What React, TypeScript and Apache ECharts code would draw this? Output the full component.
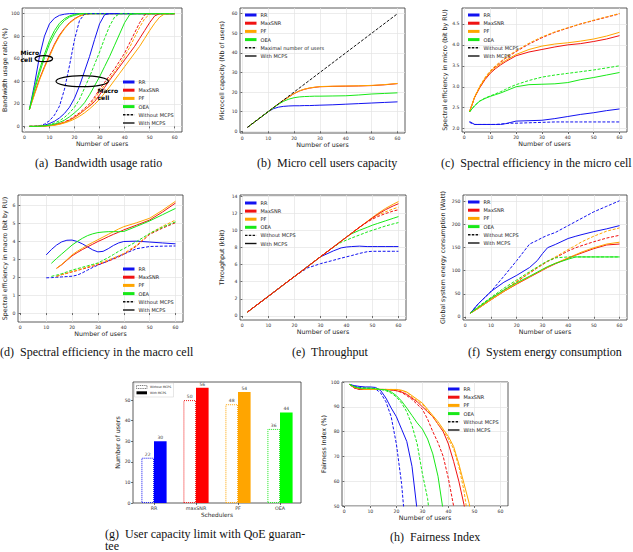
import { useEffect, useRef } from "react";
import * as echarts from "echarts";

// ---------- (a) Bandwidth usage ratio (%) ----------
const usersBw = [2, 4, 6, 8, 10, 12, 14, 16, 18, 20, 22, 24, 26, 28, 30, 32, 34, 36, 38, 40, 42, 44, 46, 48, 50, 52, 54, 56, 58, 60];
const bwMicroRR = [15, 37, 62, 80, 91, 96, 98.5, 99.5, 100, 100, 100, 100, 100, 100, 100, 100, 100, 100, 100, 100, 100, 100, 100, 100, 100, 100, 100, 100, 100, 100];
const bwMicroOEA0 = [15, 34, 50, 64, 76, 85, 91.5, 95.5, 98, 99.3, 100, 100, 100, 100, 100, 100, 100, 100, 100, 100, 100, 100, 100, 100, 100, 100, 100, 100, 100, 100];
const bwMicroOEA = [15, 32, 47, 61, 73, 82, 89, 94, 97, 98.5, 99.5, 100, 100, 100, 100, 100, 100, 100, 100, 100, 100, 100, 100, 100, 100, 100, 100, 100, 100, 100];
const bwMicroMaxSNR = [15, 29, 42, 53, 63, 73, 81, 87, 92, 95.5, 98, 99.3, 100, 100, 100, 100, 100, 100, 100, 100, 100, 100, 100, 100, 100, 100, 100, 100, 100, 100];
const bwMicroPF = [15, 28, 41, 52, 62, 72, 80, 86.5, 91.5, 95, 97.7, 99.2, 99.8, 100, 100, 100, 100, 100, 100, 100, 100, 100, 100, 100, 100, 100, 100, 100, 100, 100];
const bwMacroRR0 = [0, 0, 0.5, 2, 5, 10, 18, 33, 54, 77, 94, 99.5, 100, 100, 100, 100, 100, 100, 100, 100, 100, 100, 100, 100, 100, 100, 100, 100, 100, 100];
const bwMacroRR = [0, 0, 0.3, 1, 2.5, 4.5, 7.5, 11.5, 17, 25, 36, 49, 62, 77, 91, 99, 100, 100, 100, 100, 100, 100, 100, 100, 100, 100, 100, 100, 100, 100];
const bwMacroOEA0 = [0, 0, 0.2, 0.6, 1.5, 3, 5, 8, 12, 17, 24, 34, 44, 55, 66, 78, 89, 97, 100, 100, 100, 100, 100, 100, 100, 100, 100, 100, 100, 100];
const bwMacroOEA = [0, 0, 0.1, 0.4, 1, 2, 3.5, 5.5, 8.5, 12, 16, 21, 28, 36, 44, 53, 62, 72, 82, 92, 99, 100, 100, 100, 100, 100, 100, 100, 100, 100];
const bwMacroMaxSNR0 = [0, 0, 0.1, 0.4, 0.8, 1.5, 2.5, 4, 6, 9, 12, 16, 20, 26, 33, 39, 45, 51, 58, 65, 74, 83, 92, 99, 100, 100, 100, 100, 100, 100];
const bwMacroPF0 = [0, 0, 0.1, 0.3, 0.7, 1.3, 2.2, 3.5, 5.2, 8, 11, 14.5, 18.5, 24, 31, 36.5, 42.5, 48.5, 55, 62, 70, 79, 88, 95.5, 99.5, 100, 100, 100, 100, 100];
const bwMacroMaxSNR = [0, 0, 0.1, 0.3, 0.7, 1.3, 2.2, 3.5, 5.5, 8, 11, 14.5, 18, 22, 28, 34.5, 41, 47, 53, 59, 65, 71, 78, 85, 92, 98, 100, 100, 100, 100];
const bwMacroPF = [0, 0, 0.1, 0.2, 0.5, 1, 1.8, 3, 4.5, 6.5, 9, 12, 15.5, 19.5, 24, 29.5, 35, 41, 47, 53, 59, 65, 71, 78, 85, 91.5, 97, 99.8, 100, 100];

// ---------- (b) Micro cell users capacity ----------
const usersCap = [2, 4, 6, 8, 10, 12, 14, 16, 18, 20, 22, 24, 26, 28, 30, 35, 40, 45, 50, 55, 60];
const capMaxX = [2, 60];
const capMaxY = [2, 60];
const capRR = [2, 4, 6, 8, 10, 11.5, 12.3, 12.7, 12.9, 13, 13, 13.1, 13.1, 13.2, 13.3, 13.5, 13.8, 14.1, 14.4, 14.7, 15];
const capOEA = [2, 4, 6, 8, 10, 12, 13.8, 15.3, 16.4, 17.1, 17.5, 17.7, 17.8, 17.9, 17.9, 18, 18.1, 18.5, 19, 19.3, 19.6];
const capMaxSNR = [2, 4, 6, 8, 10, 12, 14, 15.8, 17.5, 19.2, 20.5, 21.4, 22, 22.4, 22.7, 22.9, 23, 23.1, 23.3, 23.7, 24.3];
const capPF = [2, 4, 6, 8, 10, 12, 14, 15.9, 17.6, 19.3, 20.6, 21.5, 22.1, 22.5, 22.8, 23, 23.1, 23.2, 23.4, 23.8, 24.4];

// ---------- (c) Spectral efficiency in the micro cell ----------
const usersSeMicro = [2, 4, 6, 8, 10, 12, 14, 16, 18, 20, 25, 30, 35, 40, 45, 50, 55, 60];
const seMiMaxSNR0 = [2.4, 2.75, 3.0, 3.2, 3.36, 3.48, 3.58, 3.68, 3.76, 3.84, 4.02, 4.17, 4.3, 4.4, 4.5, 4.58, 4.66, 4.74];
const seMiPF0 = [2.4, 2.76, 3.02, 3.22, 3.38, 3.5, 3.6, 3.7, 3.78, 3.86, 4.04, 4.19, 4.31, 4.41, 4.5, 4.59, 4.67, 4.75];
const seMiMaxSNR = [2.4, 2.75, 2.98, 3.17, 3.32, 3.43, 3.52, 3.6, 3.67, 3.74, 3.83, 3.89, 3.95, 4.0, 4.03, 4.08, 4.14, 4.22];
const seMiPF = [2.4, 2.76, 3.0, 3.2, 3.35, 3.46, 3.55, 3.63, 3.7, 3.77, 3.89, 3.97, 4.02, 4.05, 4.09, 4.14, 4.21, 4.3];
const seMiOEA = [2.4, 2.55, 2.66, 2.72, 2.77, 2.81, 2.85, 2.9, 2.95, 3.0, 3.05, 3.06, 3.07, 3.1, 3.17, 3.22, 3.28, 3.34];
const seMiOEA0 = [2.4, 2.55, 2.66, 2.73, 2.78, 2.83, 2.88, 2.94, 3.0, 3.05, 3.15, 3.23, 3.28, 3.32, 3.36, 3.4, 3.45, 3.5];
const seMiRR = [2.17, 2.1, 2.1, 2.1, 2.1, 2.1, 2.1, 2.12, 2.15, 2.18, 2.19, 2.2, 2.24, 2.29, 2.34, 2.38, 2.43, 2.47];
const seMiRR0 = [2.15, 2.1, 2.1, 2.1, 2.1, 2.1, 2.11, 2.12, 2.13, 2.13, 2.14, 2.15, 2.16, 2.16, 2.16, 2.16, 2.16, 2.16];

// ---------- (d) Spectral efficiency in the macro cell ----------
const usersSeMacro = [10, 12, 14, 16, 18, 20, 22, 24, 26, 28, 30, 32, 34, 36, 38, 40, 45, 50, 55, 60];
const seMaRR = [3.25, 3.55, 3.8, 3.98, 4.07, 4.08, 4.0, 3.87, 3.7, 3.53, 3.42, 3.45, 3.6, 3.78, 3.92, 4.0, 4.02, 3.97, 3.92, 3.87];
const seMaRR0 = [1.97, 1.98, 2.0, 2.02, 2.04, 2.06, 2.12, 2.25, 2.4, 2.55, 2.68, 2.8, 2.92, 3.05, 3.18, 3.3, 3.6, 3.72, 3.74, 3.75];
const seMaOEA = [null, 2.78, 3.05, 3.3, 3.55, 3.8, 4.0, 4.18, 4.33, 4.43, 4.5, 4.53, 4.55, 4.55, 4.55, 4.56, 4.85, 5.15, 5.5, 5.85];
const seMaOEA0 = [null, 2.05, 2.12, 2.2, 2.3, 2.4, 2.48, 2.56, 2.64, 2.72, 2.8, 2.95, 3.1, 3.27, 3.45, 3.6, 4.0, 4.45, 4.8, 5.1];
const seMaMaxSNR = [null, null, 2.5, 2.7, 2.95, 3.2, 3.38, 3.55, 3.7, 3.85, 4.0, 4.13, 4.27, 4.4, 4.52, 4.65, 4.92, 5.2, 5.65, 6.15];
const seMaPF = [null, null, 2.5, 2.72, 2.98, 3.25, 3.45, 3.62, 3.8, 3.95, 4.1, 4.25, 4.4, 4.55, 4.7, 4.83, 5.05, 5.3, 5.75, 6.25];
const seMaMaxSNR0 = [null, null, 2.05, 2.15, 2.22, 2.3, 2.38, 2.46, 2.54, 2.62, 2.7, 2.8, 2.9, 3.02, 3.14, 3.28, 3.75, 4.4, 4.75, 5.05];
const seMaPF0 = [null, null, 2.05, 2.15, 2.23, 2.32, 2.4, 2.49, 2.58, 2.67, 2.76, 2.86, 2.97, 3.08, 3.2, 3.33, 3.8, 4.45, 4.85, 5.2];

// ---------- (e) Throughput (kbit) ----------
const usersTp = [2, 5, 10, 15, 20, 25, 30, 35, 38, 40, 42, 45, 48, 50, 52, 55, 58, 60];
const tpMaxSNR = [0.46, 1.15, 2.3, 3.45, 4.6, 5.75, 6.9, 8.05, 8.74, 9.2, 9.66, 10.35, 11.0, 11.45, 11.85, 12.4, 12.85, 13.1];
const tpPF = [0.46, 1.15, 2.3, 3.45, 4.6, 5.75, 6.9, 8.05, 8.74, 9.2, 9.66, 10.35, 11.04, 11.5, 11.95, 12.55, 13.05, 13.35];
const tpMaxSNR0 = [0.46, 1.15, 2.3, 3.45, 4.6, 5.75, 6.9, 8.05, 8.74, 9.2, 9.66, 10.35, 10.95, 11.3, 11.6, 11.95, 12.25, 12.4];
const tpPF0 = [0.46, 1.15, 2.3, 3.45, 4.6, 5.75, 6.9, 8.05, 8.74, 9.2, 9.66, 10.35, 11.0, 11.4, 11.75, 12.15, 12.5, 12.7];
const tpOEA = [0.46, 1.15, 2.3, 3.45, 4.6, 5.75, 6.9, 8.05, 8.74, 9.2, 9.6, 10.0, 10.35, 10.6, 10.8, 11.1, 11.4, 11.6];
const tpOEA0 = [0.46, 1.15, 2.3, 3.45, 4.6, 5.75, 6.9, 8.05, 8.6, 8.85, 9.1, 9.45, 9.8, 10.0, 10.2, 10.5, 10.75, 10.9];
const tpRR = [0.46, 1.15, 2.3, 3.45, 4.6, 5.75, 6.9, 7.6, 7.95, 8.05, 8.1, 8.15, 8.1, 8.1, 8.1, 8.1, 8.1, 8.1];
const tpRR0 = [0.46, 1.15, 2.3, 3.45, 4.6, 5.6, 6.1, 6.5, 6.75, 6.9, 7.05, 7.3, 7.5, 7.55, 7.55, 7.55, 7.55, 7.55];

// ---------- (f) System energy consumption (Watt) ----------
const usersEn = [2, 5, 10, 15, 20, 25, 28, 30, 32, 35, 40, 43, 45, 50, 55, 60];
const enRR0 = [8, 28, 55, 88, 122, 158, 166, 172, 177, 183, 198, 207, 213, 228, 240, 252];
const enRR = [8, 28, 55, 75, 90, 107, 122, 137, 150, 157, 170, 175, 178, 185, 191, 198];
const enOEA0 = [8, 22, 42, 62, 80, 98, 108, 115, 121, 128, 130, 130, 130, 130, 130, 130];
const enOEA = [8, 20, 40, 58, 74, 88, 97, 103, 109, 116, 125, 130, 130, 130, 130, 130];
const enMaxSNR0 = [8, 20, 40, 58, 76, 95, 106, 113, 120, 128, 143, 150, 154, 163, 171, 177];
const enPF0 = [8, 20, 40, 58, 77, 96, 107, 114, 121, 130, 146, 155, 162, 175, 186, 193];
const enMaxSNR = [8, 18, 37, 55, 71, 86, 95, 101, 107, 115, 127, 134, 138, 148, 156, 158];
const enPF = [8, 18, 37, 55, 72, 87, 96, 102, 108, 116, 128, 135, 140, 150, 158, 162];

// ---------- (g) User capacity limit with QoE guarantee ----------
const schedulers = ["RR", "maxSNR", "PF", "OEA"];
const capQoE0 = [22, 50, 48, 36];
const capQoE = [30, 56, 54, 44];

// ---------- (h) Fairness index (%) ----------
const usersFi = [2, 4, 6, 8, 10, 12, 14, 16, 18, 20, 22, 24, 26, 28, 30, 32, 34, 36, 38, 40, 42, 44, 46, 48, 50];
const fiRR0 = [99, 98.3, 97.8, 97.6, 97.5, 97.2, 95.5, 92, 86, 75, 59, 35];
const fiRR = [99, 98.5, 98.2, 98, 98, 97.8, 96.5, 93.5, 89.5, 86, 81, 76, 66, 48];
const fiOEA = [99, 98, 97.5, 97.5, 97.5, 97.3, 97, 96.8, 96, 94.5, 92.3, 89.5, 86.5, 83.5, 81, 77, 71, 62, 48];
const fiOEA0 = [99, 98, 97.5, 97.5, 97.5, 97.3, 97, 96.5, 95.5, 94, 91.5, 88, 82.5, 75, 63, 53, 35];
const fiMaxSNR = [99, 97.5, 97, 97, 97, 97, 97, 97, 96.8, 96.5, 96, 95, 93.5, 92, 90, 88, 86, 83, 80, 75, 68, 60, 50.5, 38];
const fiMaxSNR0 = [99, 97.5, 97, 97, 97, 97, 97, 97, 96.8, 96.5, 95.8, 94.5, 93, 91, 89, 85, 80, 75.5, 70, 61, 50, 35];
const fiPF = [99, 97.8, 97.3, 97, 97, 97, 97, 97, 97, 97, 96.7, 96, 94.5, 93, 91.5, 89, 86.5, 84, 81, 78, 74, 67, 59, 51, 38];
const fiPF0 = [99, 97.8, 97.3, 97, 97, 97, 97, 97, 97, 96.9, 96.5, 95.8, 94, 92.5, 91, 88.5, 86, 83, 80.5, 77, 73, 66, 56, 42];

// ---------- styling ----------
const SANS = "DejaVu Sans";
const SERIF = "Liberation Serif";
const BLUE = "#1212f0";
const RED = "#f01212";
const ORANGE = "#ffa500";
const GREEN = "#18e818";
const FRAME = "#333333";

const frames = [
  { left: 17, top: 8, width: 165, height: 124 },
  { left: 240, top: 8, width: 165, height: 125 },
  { left: 462, top: 8, width: 165, height: 124 },
  { left: 18, top: 195, width: 165, height: 127 },
  { left: 240, top: 195, width: 166, height: 125 },
  { left: 463, top: 195, width: 164, height: 125 },
  { left: 133, top: 382, width: 168, height: 121 },
  { left: 342, top: 382, width: 166, height: 124 },
];

const usersTicks = [0, 10, 20, 30, 40, 50, 60];

function numAxis(
  gi: number,
  min: number,
  max: number,
  step: number,
  ticks: number[],
  name: string,
  gap: number,
  vertical: boolean,
  fmt?: (v: number) => string
) {
  const isTick = (v: number) => ticks.some((t) => Math.abs(t - v) < 1e-6);
  return {
    gridIndex: gi,
    type: "value",
    min,
    max,
    interval: step,
    name,
    nameLocation: "middle",
    nameGap: gap,
    nameRotate: vertical ? 90 : 0,
    nameTextStyle: { fontFamily: SANS, fontSize: 6.3, color: "#222" },
    axisLine: { show: false },
    axisTick: {
      show: true,
      length: 2,
      customValues: ticks,
      lineStyle: { color: FRAME, width: 0.7 },
    },
    axisLabel: {
      fontFamily: SANS,
      fontSize: 4.6,
      color: "#333",
      margin: 2.5,
      customValues: ticks,
      formatter: (v: number) => (isTick(v) ? (fmt ? fmt(v) : String(v)) : ""),
    },
    splitLine: { show: true, lineStyle: { color: "#e4e4e4", width: 0.7 } },
  };
}

function curve(gi: number, xs: number[], ys: (number | null)[], color: string, dashed: boolean, name: string) {
  const data = xs
    .map((x, i) => [x, ys[i]])
    .filter((p) => p[1] !== null && p[1] !== undefined);
  return {
    type: "line",
    name,
    xAxisIndex: gi,
    yAxisIndex: gi,
    data,
    symbol: "none",
    silent: true,
    clip: true,
    lineStyle: { color, width: 1, type: dashed ? [3, 1.6] : "solid" },
  };
}

type LegendEntry = { label: string; color: string; dashed?: boolean; black?: boolean };
const schedEntries: LegendEntry[] = [
  { label: "RR", color: BLUE },
  { label: "MaxSNR", color: RED },
  { label: "PF", color: ORANGE },
  { label: "OEA", color: GREEN },
];
const mcpsEntries: LegendEntry[] = [
  { label: "Without MCPS", color: "#111", dashed: true, black: true },
  { label: "With MCPS", color: "#111", black: true },
];

function legendBlock(x: number, y0: number, dy: number, entries: LegendEntry[]) {
  const els: any[] = [];
  entries.forEach((e, i) => {
    const y = y0 + i * dy;
    els.push({
      type: "line",
      silent: true,
      z: 100,
      shape: { x1: x, y1: y, x2: x + 11.5, y2: y },
      style: {
        stroke: e.color,
        lineWidth: e.black ? 1.4 : 3,
        lineDash: e.dashed ? [2.5, 1.3] : null,
      },
    });
    els.push({
      type: "text",
      silent: true,
      z: 100,
      x: x + 15.5,
      y,
      style: {
        text: e.label,
        fontFamily: SANS,
        fontSize: 5,
        fill: "#222",
        align: "left",
        verticalAlign: "middle",
      },
    });
  });
  return els;
}

function caption(x: number, y: number, text: string) {
  return {
    type: "text",
    silent: true,
    x,
    y,
    style: {
      text,
      fontFamily: SERIF,
      fontSize: 12,
      fill: "#111",
      align: "left",
      verticalAlign: "middle",
    },
  };
}

function note(x: number, y: number, text: string) {
  return {
    type: "text",
    silent: true,
    z: 100,
    x,
    y,
    style: {
      text,
      fontFamily: SANS,
      fontWeight: "bold",
      fontSize: 6,
      fill: "#000",
      align: "left",
      verticalAlign: "middle",
    },
  };
}

function buildOption() {
  const grids = frames.map((f) => ({
    ...f,
    show: true,
    borderColor: FRAME,
    borderWidth: 0.8,
    backgroundColor: "transparent",
    containLabel: false,
  }));

  const xAxes: any[] = [
    numAxis(0, -0.9, 62.9, 10, usersTicks, "Number of users", 8.5, false),
    numAxis(1, -0.9, 62.9, 10, usersTicks, "Number of users", 8.5, false),
    numAxis(2, -0.9, 62.9, 10, usersTicks, "Number of users", 8.5, false),
    numAxis(3, -0.9, 62.9, 10, usersTicks, "Number of users", 8.5, false),
    numAxis(4, -0.9, 62.9, 10, usersTicks, "Number of users", 8.5, false),
    numAxis(5, -0.9, 62.9, 10, usersTicks, "Number of users", 8.5, false),
    {
      gridIndex: 6,
      type: "category",
      data: schedulers,
      name: "Schedulers",
      nameLocation: "middle",
      nameGap: 9,
      nameTextStyle: { fontFamily: SANS, fontSize: 5.8, color: "#222" },
      axisLine: { show: false },
      axisTick: { show: true, alignWithLabel: true, length: 2, lineStyle: { color: FRAME, width: 0.7 } },
      axisLabel: { fontFamily: SANS, fontSize: 4.8, color: "#333", margin: 2.5 },
      splitLine: { show: false },
    },
    numAxis(7, -0.9, 62.9, 10, usersTicks, "Number of users", 8.5, false),
  ];

  const yAxes: any[] = [
    numAxis(0, -5, 105, 20, [0, 20, 40, 60, 80, 100], "Bandwidth usage ratio (%)", 15, true),
    numAxis(1, -0.9, 62.9, 10, [0, 10, 20, 30, 40, 50, 60], "Microcell capacity (Nb of users)", 15.5, true),
    numAxis(2, 1.92, 4.88, 0.5, [2, 2.5, 3, 3.5, 4, 4.5], "Spectral efficiency in micro (bit by RU)", 15, true, (v) => v.toFixed(1)),
    numAxis(3, -0.5, 6.6, 1, [0, 1, 2, 3, 4, 5, 6], "Spectral efficiency in macro (bit by RU)", 10.5, true),
    numAxis(4, -0.47, 14.12, 2, [0, 2, 4, 6, 8, 10, 12, 14], "Throughput (kbit)", 15.5, true),
    numAxis(5, -7, 264.5, 50, [0, 50, 100, 150, 200, 250], "Global system energy consumption (Watt)", 17.5, true),
    { ...numAxis(6, 0, 58.8, 10, [0, 10, 20, 30, 40, 50], "Number of users", 12.5, true), splitLine: { show: false } },
    numAxis(7, 50, 100, 10, [50, 60, 70, 80, 90, 100], "Fairness Index (%)", 16, true),
  ];

  const series: any[] = [
    // (a) micro cell curves
    curve(0, usersBw, bwMicroRR, BLUE, false, "RR micro"),
    curve(0, usersBw, bwMicroMaxSNR, RED, false, "MaxSNR micro"),
    curve(0, usersBw, bwMicroPF, ORANGE, false, "PF micro"),
    curve(0, usersBw, bwMicroOEA0, GREEN, false, "OEA micro w/o"),
    curve(0, usersBw, bwMicroOEA, GREEN, false, "OEA micro"),
    // (a) macro cell curves
    curve(0, usersBw, bwMacroRR0, BLUE, true, "RR macro w/o"),
    curve(0, usersBw, bwMacroRR, BLUE, false, "RR macro"),
    curve(0, usersBw, bwMacroMaxSNR0, RED, true, "MaxSNR macro w/o"),
    curve(0, usersBw, bwMacroMaxSNR, RED, false, "MaxSNR macro"),
    curve(0, usersBw, bwMacroPF0, ORANGE, true, "PF macro w/o"),
    curve(0, usersBw, bwMacroPF, ORANGE, false, "PF macro"),
    curve(0, usersBw, bwMacroOEA0, GREEN, true, "OEA macro w/o"),
    curve(0, usersBw, bwMacroOEA, GREEN, false, "OEA macro"),

    // (b)
    curve(1, usersCap, capRR, BLUE, false, "RR"),
    curve(1, usersCap, capMaxSNR, RED, false, "MaxSNR"),
    curve(1, usersCap, capPF, ORANGE, false, "PF"),
    curve(1, usersCap, capOEA, GREEN, false, "OEA"),
    curve(1, capMaxX, capMaxY, "#111", true, "Maximal number of users"),

    // (c)
    curve(2, usersSeMicro, seMiRR0, BLUE, true, "RR w/o"),
    curve(2, usersSeMicro, seMiRR, BLUE, false, "RR"),
    curve(2, usersSeMicro, seMiMaxSNR0, RED, true, "MaxSNR w/o"),
    curve(2, usersSeMicro, seMiMaxSNR, RED, false, "MaxSNR"),
    curve(2, usersSeMicro, seMiPF0, ORANGE, true, "PF w/o"),
    curve(2, usersSeMicro, seMiPF, ORANGE, false, "PF"),
    curve(2, usersSeMicro, seMiOEA0, GREEN, true, "OEA w/o"),
    curve(2, usersSeMicro, seMiOEA, GREEN, false, "OEA"),

    // (d)
    curve(3, usersSeMacro, seMaRR0, BLUE, true, "RR w/o"),
    curve(3, usersSeMacro, seMaRR, BLUE, false, "RR"),
    curve(3, usersSeMacro, seMaMaxSNR0, RED, true, "MaxSNR w/o"),
    curve(3, usersSeMacro, seMaMaxSNR, RED, false, "MaxSNR"),
    curve(3, usersSeMacro, seMaPF0, ORANGE, true, "PF w/o"),
    curve(3, usersSeMacro, seMaPF, ORANGE, false, "PF"),
    curve(3, usersSeMacro, seMaOEA0, GREEN, true, "OEA w/o"),
    curve(3, usersSeMacro, seMaOEA, GREEN, false, "OEA"),

    // (e)
    curve(4, usersTp, tpRR0, BLUE, true, "RR w/o"),
    curve(4, usersTp, tpRR, BLUE, false, "RR"),
    curve(4, usersTp, tpOEA0, GREEN, true, "OEA w/o"),
    curve(4, usersTp, tpOEA, GREEN, false, "OEA"),
    curve(4, usersTp, tpPF0, ORANGE, true, "PF w/o"),
    curve(4, usersTp, tpPF, ORANGE, false, "PF"),
    curve(4, usersTp, tpMaxSNR0, RED, true, "MaxSNR w/o"),
    curve(4, usersTp, tpMaxSNR, RED, false, "MaxSNR"),

    // (f)
    curve(5, usersEn, enRR0, BLUE, true, "RR w/o"),
    curve(5, usersEn, enRR, BLUE, false, "RR"),
    curve(5, usersEn, enMaxSNR0, RED, true, "MaxSNR w/o"),
    curve(5, usersEn, enMaxSNR, RED, false, "MaxSNR"),
    curve(5, usersEn, enPF0, ORANGE, true, "PF w/o"),
    curve(5, usersEn, enPF, ORANGE, false, "PF"),
    curve(5, usersEn, enOEA0, GREEN, true, "OEA w/o"),
    curve(5, usersEn, enOEA, GREEN, false, "OEA"),

    // (g)
    {
      type: "bar",
      name: "Without MCPS",
      xAxisIndex: 6,
      yAxisIndex: 6,
      barWidth: "30%",
      barGap: "0%",
      silent: true,
      data: capQoE0.map((v, i) => ({
        value: v,
        itemStyle: {
          color: "#ffffff",
          borderColor: [BLUE, RED, ORANGE, GREEN][i],
          borderType: "dotted",
          borderWidth: 1,
        },
      })),
      label: { show: true, position: "top", distance: 1, fontFamily: SANS, fontSize: 4.5, color: "#444" },
    },
    {
      type: "bar",
      name: "With MCPS",
      xAxisIndex: 6,
      yAxisIndex: 6,
      barWidth: "30%",
      barGap: "0%",
      silent: true,
      data: capQoE.map((v, i) => ({
        value: v,
        itemStyle: { color: ["#0000ff", "#ff0000", "#ffa500", "#00ff00"][i] },
      })),
      label: { show: true, position: "top", distance: 1, fontFamily: SANS, fontSize: 4.5, color: "#444" },
    },

    // (h)
    curve(7, usersFi, fiRR0, BLUE, true, "RR w/o"),
    curve(7, usersFi, fiRR, BLUE, false, "RR"),
    curve(7, usersFi, fiMaxSNR0, RED, true, "MaxSNR w/o"),
    curve(7, usersFi, fiMaxSNR, RED, false, "MaxSNR"),
    curve(7, usersFi, fiPF0, ORANGE, true, "PF w/o"),
    curve(7, usersFi, fiPF, ORANGE, false, "PF"),
    curve(7, usersFi, fiOEA0, GREEN, true, "OEA w/o"),
    curve(7, usersFi, fiOEA, GREEN, false, "OEA"),
  ];

  const graphic: any[] = [
    // legends
    ...legendBlock(123, 82, 8.2, [...schedEntries, ...mcpsEntries]),
    ...legendBlock(245, 15, 8.2, [
      ...schedEntries,
      { label: "Maximal number of users", color: "#111", dashed: true, black: true },
      { label: "With MCPS", color: "#111", black: true },
    ]),
    ...legendBlock(468, 15, 8.2, [...schedEntries, ...mcpsEntries]),
    ...legendBlock(123, 269, 8.2, [...schedEntries, ...mcpsEntries]),
    ...legendBlock(245, 203, 8.1, [...schedEntries, ...mcpsEntries]),
    ...legendBlock(468, 202, 8.2, [...schedEntries, ...mcpsEntries]),
    ...legendBlock(448, 389, 8.2, [...schedEntries, ...mcpsEntries]),

    // bar chart legend
    {
      type: "rect",
      silent: true,
      z: 100,
      shape: { x: 134.5, y: 383, width: 39, height: 14 },
      style: { fill: "rgba(255,255,255,0.85)", stroke: "#cccccc", lineWidth: 0.5 },
    },
    {
      type: "rect",
      silent: true,
      z: 101,
      shape: { x: 136.5, y: 385.5, width: 10.5, height: 3 },
      style: { fill: "#ffffff", stroke: "#111", lineWidth: 0.6, lineDash: [1, 0.8] },
    },
    {
      type: "rect",
      silent: true,
      z: 101,
      shape: { x: 136.5, y: 391.3, width: 10.5, height: 3 },
      style: { fill: "#000000" },
    },
    {
      type: "text",
      silent: true,
      z: 101,
      x: 150,
      y: 387,
      style: { text: "Without MCPS", fontFamily: SANS, fontSize: 3, fill: "#222", verticalAlign: "middle" },
    },
    {
      type: "text",
      silent: true,
      z: 101,
      x: 150,
      y: 392.8,
      style: { text: "With MCPS", fontFamily: SANS, fontSize: 3, fill: "#222", verticalAlign: "middle" },
    },

    // cell annotations in (a)
    {
      type: "ellipse",
      silent: true,
      z: 100,
      shape: { cx: 43.8, cy: 58.7, rx: 8.8, ry: 3 },
      style: { fill: "none", stroke: "#000", lineWidth: 1.2 },
    },
    {
      type: "ellipse",
      silent: true,
      z: 100,
      shape: { cx: 82.2, cy: 81.2, rx: 26.2, ry: 5.5 },
      style: { fill: "none", stroke: "#000", lineWidth: 1.2 },
    },
    note(20.5, 52.3, "Micro"),
    note(20.5, 59.3, "cell"),
    note(97.5, 90.3, "Macro"),
    note(97.5, 97.2, "cell"),

    // sub-figure captions
    caption(35, 163, "(a)\u00a0 Bandwidth usage ratio"),
    caption(257, 163, "(b)\u00a0 Micro cell users capacity"),
    caption(441, 163, "(c)\u00a0 Spectral efficiency in the micro cell"),
    caption(0, 352, "(d)\u00a0 Spectral efficiency in the macro cell"),
    caption(292, 352, "(e)\u00a0 Throughput"),
    caption(468, 352, "(f)\u00a0 System energy consumption"),
    caption(105, 533.5, "(g)\u00a0 User capacity limit with QoE guaran-"),
    caption(105, 546, "tee"),
    caption(390, 537, "(h)\u00a0 Fairness Index"),
  ];

  return {
    animation: false,
    backgroundColor: "#ffffff",
    textStyle: { fontFamily: SANS },
    grid: grids,
    xAxis: xAxes,
    yAxis: yAxes,
    series,
    graphic,
  };
}

export default function App() {
  const ref = useRef<HTMLDivElement>(null);
  useEffect(() => {
    if (!ref.current) return;
    const chart = echarts.init(ref.current, null, { renderer: "svg" });
    chart.setOption(buildOption() as any);
    return () => chart.dispose();
  }, []);
  return (
    <div
      ref={ref}
      style={{ position: "fixed", left: 0, top: 0, width: 633, height: 552, background: "#fff" }}
    />
  );
}
